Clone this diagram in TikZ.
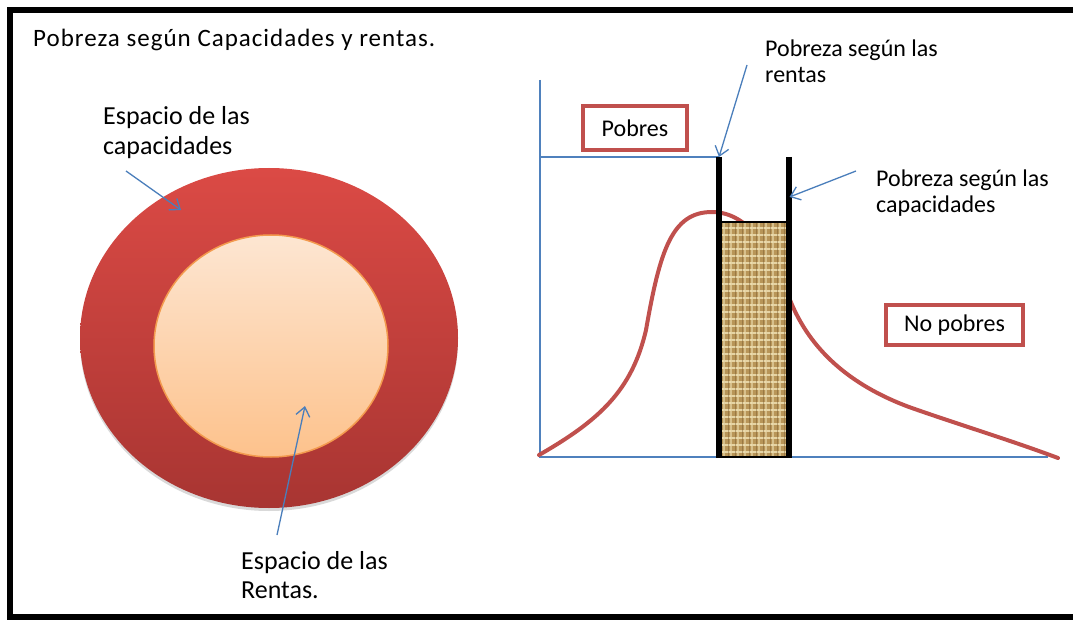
\documentclass[tikz,border=0pt]{standalone}
\usepackage{fontspec}
\setmainfont{Carlito}
\newfontfamily\spacedfont[LetterSpace=4]{Carlito}
\usetikzlibrary{arrows.meta,shapes.geometric,patterns.meta,shadows}
\definecolor{arrowblue}{HTML}{4A7EBB}
\definecolor{axisblue}{HTML}{4F81BD}
\definecolor{curvered}{HTML}{C0504D}
\definecolor{ringtop}{HTML}{DB4A45}
\definecolor{ringbot}{HTML}{A83532}
\definecolor{coretop}{HTML}{FDE6D2}
\definecolor{corebot}{HTML}{FDC28C}
\definecolor{coreedge}{HTML}{F39A4E}
\definecolor{burlap}{HTML}{B89558}
\definecolor{burlaplight}{HTML}{F2E4B8}
\definecolor{burlapdark}{HTML}{6E5028}
\tikzset{
  bluearrow/.style={draw=arrowblue, line width=1.3pt, -{Straight Barb[length=9pt,width=14pt,line width=1.3pt]}},
  axisline/.style={draw=axisblue, line width=1.3pt},
  curveline/.style={draw=curvered, line width=4pt, line cap=round},
  redbox/.style={draw=curvered, line width=4pt, fill=white, inner sep=0pt, font=\fontsize{24}{28}\selectfont},
  lbl/.style={anchor=base west, align=left, inner sep=0pt},
  barline/.style={draw=black, line width=5.5pt},
}
\begin{document}
\begin{tikzpicture}[x=1pt,y=-1pt]
\useasboundingbox (0,0) rectangle (1073,620);
\clip (0,0) rectangle (1073,620);
\fill[white] (0,0) rectangle (1073,620);
\draw[line width=6.5pt] (10,10) rectangle (1090,617);

% title
\node[lbl, font=\spacedfont\fontsize{25}{28}\selectfont] (title) at (33,47) {Pobreza según Capacidades y rentas.};

% left: circles
\node[ellipse, minimum width=378pt, minimum height=340pt, inner sep=0pt,
      top color=ringtop, bottom color=ringbot,
      drop shadow={shadow xshift=0pt, shadow yshift=-3pt, opacity=0.15, fill=black}] (outer) at (269,338) {};
\node[ellipse, minimum width=234pt, minimum height=222pt, inner sep=0pt,
      draw=coreedge, line width=1.5pt, top color=coretop, bottom color=corebot] (inner) at (271,346) {};

\node[lbl, font=\fontsize{26}{30}\selectfont] (lcap) at (103,155) {Espacio de las\\capacidades};
\node[lbl, font=\fontsize{26}{29}\selectfont] (lren) at (241,598) {Espacio de las\\Rentas.};

\coordinate (capS) at (126,171);
\coordinate (capE) at (181,210);
\coordinate (renS) at (277,535);
\coordinate (renE) at (305,406);
\draw[bluearrow] (capS) -- (capE);
\draw[bluearrow] (renS) -- (renE);

% right: chart
\coordinate (O) at (540,457);
\coordinate (Ytop) at (540,80);
\coordinate (Xend) at (1048,457);
\coordinate (Plev) at (540,157);
\coordinate (LbarT) at (719,157);
\coordinate (LbarB) at (719,458);
\coordinate (RbarT) at (789,157);
\coordinate (RbarB) at (789,458);

\draw[axisline] (Ytop) -- (O) -- (Xend);
\draw[axisline] (Plev) -- (LbarT);

\draw[curveline] (539,455) .. controls (600,420) and (632,390) .. (646,330)
  .. controls (660,250) and (672,212) .. (712,212)
  .. controls (750,212) and (775,255) .. (790,300)
  .. controls (810,350) and (850,385) .. (909,407)
  .. controls (960,425) and (1010,440) .. (1058,458);

% textured box
\fill[burlap] (719,222) rectangle (789,457);
\fill[pattern={Lines[angle=0,distance=7pt,line width=2.4pt]}, pattern color=burlaplight, opacity=0.8] (719,222) rectangle (789,457);
\fill[pattern={Lines[angle=90,distance=7pt,line width=2pt,xshift=3pt]}, pattern color=burlaplight, opacity=0.55] (719,222) rectangle (789,457);
\fill[pattern={Lines[angle=90,distance=7pt,line width=1pt]}, pattern color=burlapdark, opacity=0.4] (719,222) rectangle (789,457);
\draw[line width=2.5pt] (719,222) rectangle (789,457);
\draw[barline] (LbarT) -- (LbarB);
\draw[barline] (RbarT) -- (RbarB);

\node[redbox, minimum width=104pt, minimum height=44pt] (pobres) at (635,128) {Pobres};
\node[redbox, minimum width=137pt, minimum height=40pt] (nopobres) at (954.5,325) {No pobres};

\node[lbl, font=\fontsize{24}{26}\selectfont] (lrentas) at (765,83) {Pobreza según las\\rentas};
\node[lbl, font=\fontsize{24}{26}\selectfont] (lcapac) at (876,213) {Pobreza según las\\capacidades};

\coordinate (rS) at (747,65);
\coordinate (cS) at (856,171);
\coordinate (cE) at (789.5,197);
\draw[bluearrow] (rS) -- (LbarT);
\draw[bluearrow] (cS) -- (cE);
\end{tikzpicture}
\end{document}
